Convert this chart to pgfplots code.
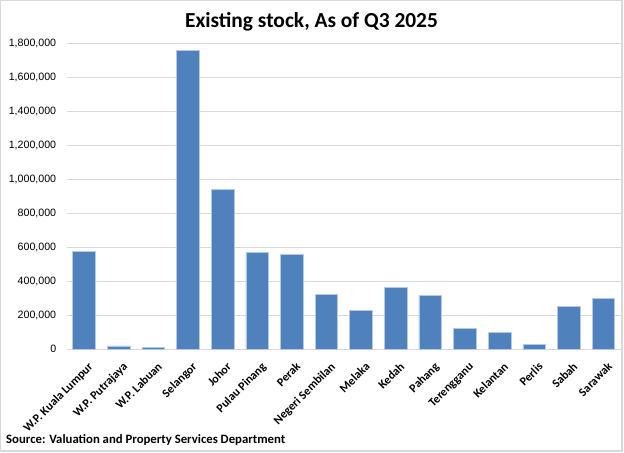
\documentclass[border=0pt]{standalone}
\usepackage{pgfplots}
\pgfplotsset{compat=1.18}
\usepackage{fontspec}
\setmainfont{Carlito}
\newfontfamily\arialfont{Liberation Sans}
\definecolor{barblue}{HTML}{4F81BD}
\definecolor{baredge}{HTML}{B3C9E4}
\definecolor{gridgray}{HTML}{D9D9D9}
\begin{document}
\begin{tikzpicture}[x=1bp,y=1bp]
% chart frame
\draw[gridgray, line width=1.2bp] (0.6,2) rectangle (622,452.4);
\begin{axis}[
  at={(66.7bp,103.7bp)}, anchor=south west,
  scale only axis, width=554bp, height=306bp,
  xmin=-0.5, xmax=15.5, ymin=0, ymax=1800000,
  ytick={0,200000,...,1800000},
  xtick={0,...,15},
  xticklabels={W.P. Kuala Lumpur, W.P. Putrajaya, W.P. Labuan, Selangor, Johor, Pulau Pinang, Perak, Negeri Sembilan, Melaka, Kedah, Pahang, Terengganu, Kelantan, Perlis, Sabah, Sarawak},
  major tick length=0pt,
  ymajorgrids, grid style={gridgray, line width=0.9bp},
  axis lines*=left,
  y axis line style={draw=none},
  x axis line style={gridgray, line width=0.9bp},
  scaled y ticks=false,
  /pgf/number format/.cd, fixed, 1000 sep={,}, assume math mode=true,
  /pgfplots/.cd,
  yticklabel style={font=\arialfont\fontsize{10.7}{12}\selectfont, xshift=-7bp},
  xticklabel style={font=\bfseries\fontsize{12}{14}\selectfont, rotate=45, anchor=north east, inner sep=0pt, xshift=-6bp, yshift=-11bp},
  clip=false,
]
\addplot[ybar, bar width=0.655, fill=barblue, draw=baredge, line width=0.6bp] coordinates {
  (0,576000) (1,19600) (2,11800) (3,1756000) (4,941000) (5,571000)
  (6,559000) (7,323500) (8,231000) (9,366000) (10,318000) (11,121000)
  (12,98000) (13,27000) (14,253000) (15,300000)
};
\end{axis}
\node[font=\bfseries\fontsize{21.5}{24}\selectfont, anchor=base] at (311.5,425) {Existing stock, As of Q3 2025};
\node[font=\bfseries\fontsize{12.8}{14}\selectfont, anchor=base west, inner sep=0pt] at (6,9) {Source: Valuation and Property Services Department};
\pgfresetboundingbox
\useasboundingbox (0,0) rectangle (624,453);
\end{tikzpicture}
\end{document}
